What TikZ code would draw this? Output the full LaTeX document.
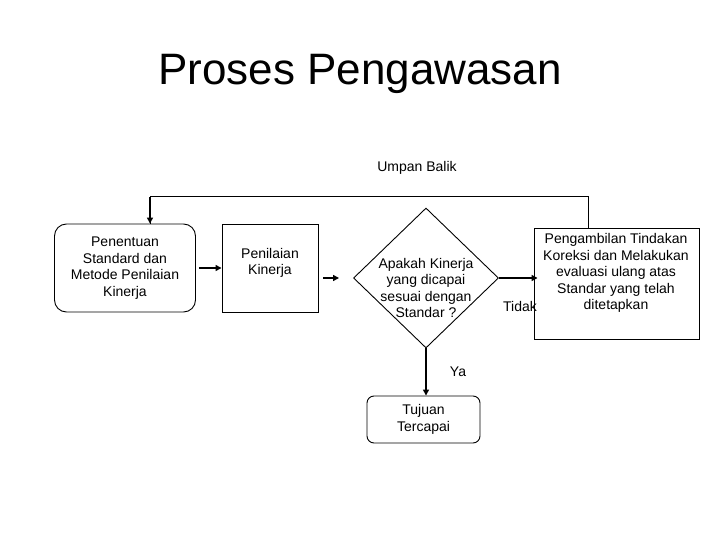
\documentclass[tikz,border=0pt]{standalone}
\usepackage{fontspec}
\setmainfont{Liberation Sans}
\usetikzlibrary{shapes.geometric,arrows.meta}

\tikzset{
  box/.style={draw,line width=0.9pt,align=center,inner sep=0pt},
  rbox/.style={box,rounded corners=12pt},
  txt/.style={align=center,font=\fontsize{14}{16.5}\selectfont},
  flow/.style={line width=1.4pt,-{Triangle[length=6pt,width=6pt]}}
}

\begin{document}
\begin{tikzpicture}[x=1pt,y=-1pt,font=\fontsize{14}{16.5}\selectfont]
\useasboundingbox (0,0) rectangle (720,540);
% title
\node[anchor=base,font=\fontsize{44}{50}\selectfont] (judul) at (360,85) {Proses Pengawasan};
% shapes
\node[rbox,minimum width=141pt,minimum height=88pt] (standar) at (125,268) {Penentuan\\Standard dan\\Metode Penilaian\\Kinerja};
\node[box,minimum width=96pt,minimum height=88pt] (nilai) at (270,268) {};
\node[txt] (nilaitxt) at (270,263) {Penilaian\\Kinerja};
\node[draw,line width=0.9pt,diamond,inner sep=0pt,minimum width=145pt,minimum height=140pt] (cek) at (426,278) {};
\node[txt] (cektxt) at (426,288) {Apakah Kinerja\\yang dicapai\\sesuai dengan\\Standar ?};
\node[box,minimum width=165pt,minimum height=111pt] (koreksi) at (616.5,283.5) {};
\node[txt] (koreksitxt) at (616,273) {Pengambilan Tindakan\\Koreksi dan Melakukan\\evaluasi ulang atas\\Standar yang telah\\ditetapkan};
\node[box,rounded corners=7pt,minimum width=113pt,minimum height=47pt] (tujuan) at (423.5,419.5) {Tujuan\\Tercapai};
% labels
\node (umpan) at (417,168) {Umpan Balik};
\node (tidak) at (520,306) {Tidak};
\node (ya) at (458,372) {Ya};
% connectors
\draw[flow,shorten <=3pt] (standar.east) -- (nilai.west);
\draw[flow,shorten <=5pt,shorten >=14pt] (nilai.east |- cek.west) -- (cek.west);
\draw[flow,shorten >=-4pt] (cek.east) -- (cek.east -| koreksi.west);
\draw[flow] (cek.south) -- (cek.south |- tujuan.north);
\coordinate (balik) at ([xshift=-28.5pt]koreksi.north);
\draw[line width=1pt] (balik) -- ++(0,-31) -| ([xshift=25pt]standar.north) coordinate (masuk);
\draw[flow] ([yshift=27pt]masuk) -- (masuk);
\end{tikzpicture}
\end{document}
